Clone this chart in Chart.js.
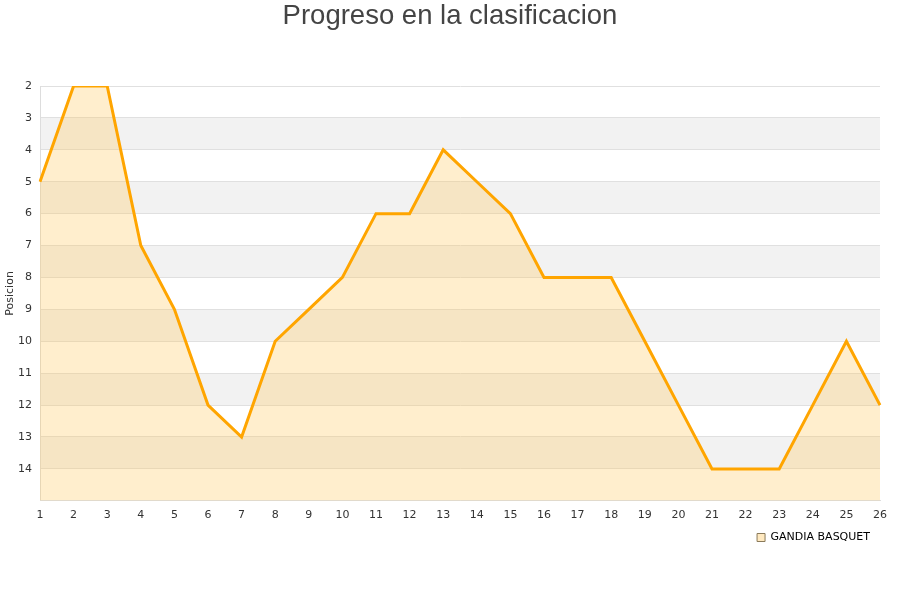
<!DOCTYPE html>
<html>
<head>
<meta charset="utf-8">
<script src="https://cdn.jsdelivr.net/npm/chart.js@4.4.0/dist/chart.umd.min.js"></script>
<style>
  html, body { margin: 0; padding: 0; background: #fff; }
  #wrap { width: 900px; height: 600px; }
</style>
</head>
<body>
<div id="wrap"><canvas id="chart" width="900" height="600"></canvas></div>
<script>
// --- datos ---
const jornadas = ['1','2','3','4','5','6','7','8','9','10','11','12','13','14','15','16','17','18','19','20','21','22','23','24','25','26'];
const posiciones = [5, 2, 2, 7, 9, 12, 13, 10, 9, 8, 6, 6, 4, 5, 6, 8, 8, 8, 10, 12, 14, 14, 14, 12, 10, 12];
const equipo = 'GANDIA BASQUET';
const titulo = 'Progreso en la clasificacion';
const ejeY = 'Posicion';

// bandas grises alternas detras del grafico
const bandas = {
    id: 'bandas',
    beforeDraw(chart) {
        const { ctx, chartArea, scales } = chart;
        const y = scales.y;
        ctx.save();
        for (let v = 3; v < 15; v += 2) {
            const top = y.getPixelForValue(v);
            const bottom = y.getPixelForValue(v + 1);
            ctx.fillStyle = '#f2f2f2';
            ctx.fillRect(chartArea.left, top, chartArea.right - chartArea.left, bottom - top);
        }
        // titulo centrado en todo el lienzo
        ctx.fillStyle = '#444';
        ctx.font = '27.5px "Liberation Sans"';
        ctx.textAlign = 'center';
        ctx.textBaseline = 'middle';
        ctx.fillText(titulo, chart.width / 2, 16);
        ctx.restore();
    }
};

const ctx = document.getElementById('chart').getContext('2d');
new Chart(ctx, {
    type: 'line',
    data: {
        labels: jornadas,
        datasets: [{
            label: equipo,
            data: posiciones,
            borderColor: '#ffa500',
            borderWidth: 3,
            backgroundColor: 'rgba(255, 200, 90, 0.3)',
            fill: { value: 15 },
            pointRadius: 0,
            tension: 0
        }]
    },
    options: {
        responsive: false,
        animation: false,
        layout: { padding: { left: 0, right: 20, top: 86, bottom: 47 } },
        scales: {
            x: {
                offset: false,
                grid: { display: false },
                border: { color: '#dddddd' },
                ticks: { color: '#333', padding: 0, font: { family: 'DejaVu Sans', size: 11 }, maxRotation: 0, autoSkip: false }
            },
            y: {
                reverse: true,
                min: 2,
                max: 15,
                afterFit(scale) { scale.width = 40; },
                grid: { color: '#e0e0e0', drawTicks: false },
                border: { color: '#dddddd' },
                title: { display: true, text: ejeY, color: '#333', font: { family: 'DejaVu Sans', size: 11 }, padding: { top: 4, bottom: 0 } },
                ticks: {
                    color: '#333',
                    padding: 8,
                    stepSize: 1,
                    font: { family: 'DejaVu Sans', size: 11 },
                    callback: v => (v === 15 ? '' : v)
                }
            }
        },
        plugins: {
            title: { display: false },
            legend: {
                position: 'bottom',
                align: 'end',
                labels: {
                    color: '#111',
                    boxWidth: 8,
                    boxHeight: 8,
                    padding: 10,
                    font: { family: 'DejaVu Sans', size: 11 },
                    generateLabels: chart => [{
                        text: equipo,
                        fillStyle: '#ffe9c0',
                        strokeStyle: '#8a7a5a',
                        lineWidth: 1,
                        datasetIndex: 0
                    }]
                }
            },
            tooltip: { enabled: false }
        }
    },
    plugins: [bandas]
});
</script>
</body>
</html>
